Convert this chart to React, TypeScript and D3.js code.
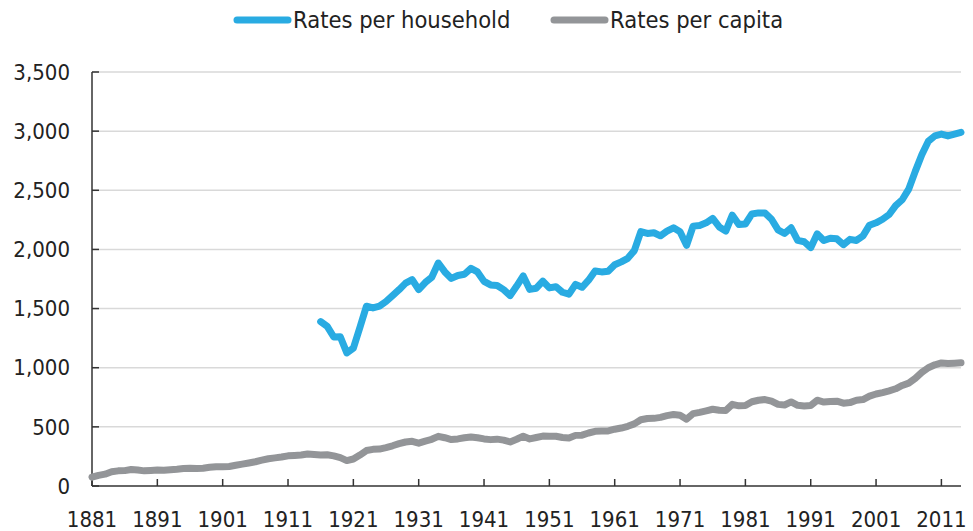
import React from "react";
import * as d3 from "d3";

const capitaStart = 1881;
const capitaValues = [
  75, 90, 100, 120, 128, 130, 140, 135, 128, 132,
  135, 133, 138, 142, 148, 150, 148, 150, 158, 163,
  162, 165, 175, 185, 195, 205, 218, 230, 238, 245,
  255, 258, 262, 270, 266, 262, 264, 255, 240, 215,
  228, 262, 300, 310, 312, 325, 340, 358, 372, 378,
  362, 380, 395, 420, 408, 393, 398, 408, 415, 408,
  398, 392, 396, 388, 372, 395, 421, 398, 410, 422,
  420, 421, 410, 405, 428, 430, 448, 462, 465, 466,
  480, 490, 505, 525, 560, 571, 572, 580, 595, 604,
  598, 565, 612, 622, 635, 649, 640, 638, 690, 678,
  680, 712, 725, 731, 718, 690, 685, 711, 682, 677,
  680, 725, 710, 715, 717, 700, 705, 725, 731, 760,
  778, 790, 805, 822, 850, 870, 910, 960, 1000, 1025,
  1040, 1035, 1038, 1042,
];

const householdStart = 1916;
const householdValues = [
  1390, 1350, 1260, 1262, 1125, 1165, 1340, 1520, 1505, 1520,
  1560, 1610, 1660, 1715, 1745, 1660, 1720, 1765, 1885, 1810,
  1755, 1780, 1790, 1840, 1810, 1730, 1700, 1695, 1660, 1610,
  1690, 1776, 1662, 1672, 1732, 1675, 1685, 1638, 1622, 1705,
  1680, 1740, 1818, 1810, 1815, 1870, 1895, 1925, 1990, 2150,
  2135, 2141, 2115, 2155, 2183, 2150, 2035, 2197, 2203, 2225,
  2262, 2190, 2155, 2290, 2210, 2215, 2300, 2309, 2309, 2255,
  2165, 2135, 2183, 2076, 2065, 2015, 2132, 2075, 2095, 2090,
  2040, 2085, 2076, 2115, 2205, 2225, 2255, 2295, 2370, 2420,
  2510, 2660, 2800, 2915, 2960, 2975, 2960, 2975, 2990,
];

const xTickYears = [1881, 1891, 1901, 1911, 1921, 1931, 1941, 1951, 1961, 1971, 1981, 1991, 2001, 2011];
const yTickValues = [0, 500, 1000, 1500, 2000, 2500, 3000, 3500];
const seriesNames = ["Rates per household", "Rates per capita"];
const seriesColors = ["#29ABE2", "#939598"];

const W = 973;
const H = 531;
const FONT = "'DejaVu Sans Condensed', 'DejaVu Sans', sans-serif";

export default function App() {
  const x = d3.scaleLinear().domain([1881, 2014]).range([92, 961]);
  const y = d3.scaleLinear().domain([0, 3500]).range([486, 72]);

  const household = householdValues.map((v, i) => [householdStart + i, v] as [number, number]);
  const capita = capitaValues.map((v, i) => [capitaStart + i, v] as [number, number]);

  const line = d3
    .line<[number, number]>()
    .x((d) => x(d[0]))
    .y((d) => y(d[1]))
    .curve(d3.curveLinear);

  const fmt = d3.format(",");
  const x0 = x.range()[0];
  const x1 = x.range()[1];

  return (
    <svg
      width={W}
      height={H}
      style={{ position: "absolute", left: 0, top: 0, background: "#fff" }}
      fontFamily={FONT}
    >
      {yTickValues.slice(1).map((v) => (
        <line key={"g" + v} x1={x0} x2={x1} y1={y(v)} y2={y(v)} stroke="#d9d9d9" strokeWidth={1.5} />
      ))}
      <line x1={x0} x2={x0} y1={y(3500)} y2={y(0)} stroke="#333" strokeWidth={1.5} />
      {yTickValues.map((v) => (
        <g key={"yt" + v}>
          <line x1={x0} x2={x0 + 7} y1={y(v)} y2={y(v)} stroke="#333" strokeWidth={1.5} />
          <text x={70} y={y(v)} dy="0.35em" textAnchor="end" fontSize={22} fill="#222">
            {fmt(v)}
          </text>
        </g>
      ))}
      <line x1={x0} x2={x1} y1={y(0)} y2={y(0)} stroke="#333" strokeWidth={1.5} />
      {xTickYears.map((yr) => (
        <g key={"xt" + yr}>
          <line x1={x(yr)} x2={x(yr)} y1={y(0)} y2={y(0) - 7} stroke="#333" strokeWidth={1.5} />
          <text x={x(yr)} y={527} textAnchor="middle" fontSize={22} fill="#222">
            {yr}
          </text>
        </g>
      ))}
      <path d={line(capita) || ""} fill="none" stroke={seriesColors[1]} strokeWidth={7} strokeLinejoin="round" strokeLinecap="round" />
      <path d={line(household) || ""} fill="none" stroke={seriesColors[0]} strokeWidth={7} strokeLinejoin="round" strokeLinecap="round" />
      {[0, 1].map((i) => {
        const lx = i === 0 ? 234 : 551;
        return (
          <g key={"lg" + i}>
            <line x1={lx + 3} x2={lx + 54} y1={20} y2={20} stroke={seriesColors[i]} strokeWidth={7} strokeLinecap="round" />
            <text x={lx + 59} y={20} dy="0.35em" fontSize={23.5} fill="#222">
              {seriesNames[i]}
            </text>
          </g>
        );
      })}
    </svg>
  );
}
